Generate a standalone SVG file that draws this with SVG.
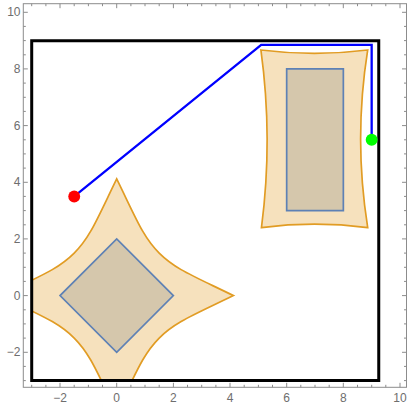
<svg xmlns="http://www.w3.org/2000/svg" xmlns:xlink="http://www.w3.org/1999/xlink" width="407" height="406" viewBox="0 0 407 406">
<style>
.tick{fill:none;stroke:#8c8c8c;stroke-width:1}
.frame{fill:none;stroke:#8c8c8c;stroke-width:1}
.lbl{font-family:"Liberation Sans",Arial,sans-serif;font-size:12px;fill:#6e6e6e}
.ns{vector-effect:non-scaling-stroke}
.obst{fill:#d5c7ac;stroke:#5e81b5;stroke-width:1.7;stroke-linejoin:miter}
.cobst{fill:#f6e1bd;stroke:#e19c24;stroke-width:1.7;stroke-linejoin:miter}
</style>
<defs>
<clipPath id="clipRange" clipPathUnits="userSpaceOnUse"><rect x="-3" y="-3" width="12.25" height="12"/></clipPath>
<path id="xticks" class="tick" d="M31.7 387.3v-2.5M45.9 387.3v-2.5M60 387.3v-4.5M74.2 387.3v-2.5M88.4 387.3v-2.5M102.5 387.3v-2.5M116.7 387.3v-4.5M130.9 387.3v-2.5M145 387.3v-2.5M159.2 387.3v-2.5M173.4 387.3v-4.5M187.5 387.3v-2.5M201.7 387.3v-2.5M215.9 387.3v-2.5M230 387.3v-4.5M244.2 387.3v-2.5M258.4 387.3v-2.5M272.5 387.3v-2.5M286.7 387.3v-4.5M300.8 387.3v-2.5M315 387.3v-2.5M329.2 387.3v-2.5M343.3 387.3v-4.5M357.5 387.3v-2.5M371.7 387.3v-2.5M385.8 387.3v-2.5M400 387.3v-4.5"/>
<path id="yticks" class="tick" d="M23.3 380.6h2.5M23.3 366.4h2.5M23.3 352.3h4.5M23.3 338.1h2.5M23.3 323.9h2.5M23.3 309.8h2.5M23.3 295.6h4.5M23.3 281.4h2.5M23.3 267.3h2.5M23.3 253.1h2.5M23.3 238.9h4.5M23.3 224.8h2.5M23.3 210.6h2.5M23.3 196.4h2.5M23.3 182.3h4.5M23.3 168.1h2.5M23.3 153.9h2.5M23.3 139.8h2.5M23.3 125.6h4.5M23.3 111.4h2.5M23.3 97.3h2.5M23.3 83.1h2.5M23.3 68.9h4.5M23.3 54.8h2.5M23.3 40.6h2.5M23.3 26.4h2.5M23.3 12.3h4.5"/>
</defs>
<rect width="407" height="406" fill="#ffffff"/>
<g id="axes">
<rect class="frame" x="23.3" y="3.7" width="383.2" height="383.6"/>
<use xlink:href="#xticks"/>
<use xlink:href="#xticks" transform="translate(0,391) scale(1,-1)"/>
<use xlink:href="#yticks"/>
<use xlink:href="#yticks" transform="translate(429.8,0) scale(-1,1)"/>
<g class="lbl" text-anchor="middle">
<text x="60" y="402">−2</text>
<text x="116.7" y="402">0</text>
<text x="173.4" y="402">2</text>
<text x="230" y="402">4</text>
<text x="286.7" y="402">6</text>
<text x="343.3" y="402">8</text>
<text x="400" y="402">10</text>
</g>
<g class="lbl" text-anchor="end">
<text x="20.5" y="356.3">−2</text>
<text x="20.5" y="299.6">0</text>
<text x="20.5" y="242.9">2</text>
<text x="20.5" y="186.3">4</text>
<text x="20.5" y="129.6">6</text>
<text x="20.5" y="72.9">8</text>
<text x="20.5" y="16.3">10</text>
</g>
</g>
<g id="plot" transform="matrix(28.33 0 0 -28.33 116.7 295.6)">
<g clip-path="url(#clipRange)">
<g id="cspace-obstacle-1">
<path class="cobst ns" d="M0,4.12 C0.7,2.69 0.93,2.07 1.5,1.5 C2.07,0.93 2.69,0.7 4.12,0 C2.69,-0.7 2.07,-0.93 1.5,-1.5 C0.93,-2.07 0.7,-2.69 0,-4.12 C-0.7,-2.69 -0.93,-2.07 -1.5,-1.5 C-2.07,-0.93 -2.69,-0.7 -4.12,0 C-2.69,0.7 -2.07,0.93 -1.5,1.5 C-0.93,2.07 -0.7,2.69 0,4.12 Z"/>
</g>
<g id="cspace-obstacle-2">
<path class="cobst ns" d="M5.09,8.67 Q6.98,8.43 8.86,8.67 Q8.36,5.535 8.86,2.4 Q6.98,2.64 5.11,2.4 Q5.52,5.535 5.09,8.67 Z"/>
</g>
</g>
<g id="obstacle-1"><path class="obst ns" d="M2,0 L0,2 L-2,0 L0,-2 Z"/></g>
<g id="obstacle-2"><path class="obst ns" d="M6,3 H8 V8 H6 Z"/></g>
<g id="boundary"><rect class="ns" x="-3" y="-3" width="12.25" height="12" fill="none" stroke="#000000" stroke-width="3"/></g>
<g id="connectors"><path class="ns" d="M-1.5,3.5 L5.1,8.85 L9.0,8.85 L9.0,5.5" fill="none" stroke="#0000ff" stroke-width="2.3" stroke-linejoin="miter"/></g>
<g id="start"><circle cx="-1.5" cy="3.5" r="0.21" fill="#ff0000"/></g>
<g id="goal"><circle cx="9.0" cy="5.5" r="0.21" fill="#00ff00"/></g>
</g>
</svg>
